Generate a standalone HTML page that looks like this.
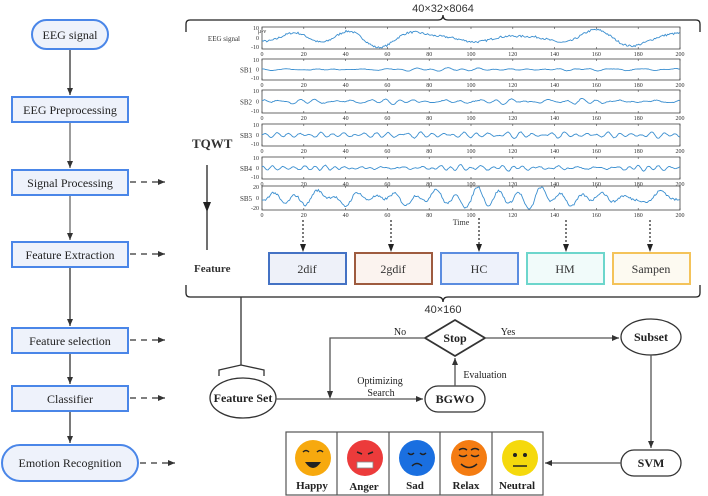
<!DOCTYPE html>
<html><head><meta charset="utf-8"><style>
html,body{margin:0;padding:0;background:#fff;}
svg{display:block;font-family:"Liberation Serif",serif;}
</style></head><body>
<svg id="s" width="708" height="496" viewBox="0 0 708 496" xmlns="http://www.w3.org/2000/svg">
<defs>
<marker id="a" markerWidth="8" markerHeight="8" refX="7" refY="4" orient="auto" markerUnits="userSpaceOnUse"><path d="M0,1 L7,4 L0,7 z" fill="#333"/></marker>
</defs>
<g stroke="#333" stroke-width="1.3" fill="none">
<line x1="70" y1="49" x2="70" y2="95" marker-end="url(#a)"/>
<line x1="70" y1="122" x2="70" y2="168" marker-end="url(#a)" stroke="#666"/>
<line x1="70" y1="195" x2="70" y2="240" marker-end="url(#a)" stroke="#666"/>
<line x1="70" y1="267" x2="70" y2="326" marker-end="url(#a)"/>
<line x1="70" y1="353" x2="70" y2="384" marker-end="url(#a)"/>
<line x1="70" y1="411" x2="70" y2="443" marker-end="url(#a)"/>
<g stroke-dasharray="6,5"><line x1="130" y1="182" x2="165" y2="182" marker-end="url(#a)"/>
<line x1="130" y1="254" x2="165" y2="254" marker-end="url(#a)"/>
<line x1="130" y1="340" x2="165" y2="340" marker-end="url(#a)"/>
<line x1="130" y1="398" x2="165" y2="398" marker-end="url(#a)"/>
<line x1="140" y1="463" x2="175" y2="463" marker-end="url(#a)"/></g>
</g>
<g stroke="#4a86e8" stroke-width="2" fill="#eef2fb">
<rect x="32" y="20" width="76" height="29" rx="14.5"/>
<rect x="12" y="97" width="116" height="25"/>
<rect x="12" y="170" width="116" height="25"/>
<rect x="12" y="242" width="116" height="25"/>
<rect x="12" y="328" width="116" height="25"/>
<rect x="12" y="386" width="116" height="25"/>
<rect x="2" y="445" width="136" height="36" rx="18"/>
</g>
<g font-size="12" fill="#222" text-anchor="middle">
<text x="70" y="39">EEG signal</text>
<text x="70" y="114">EEG Preprocessing</text>
<text x="70" y="187">Signal Processing</text>
<text x="70" y="259">Feature Extraction</text>
<text x="70" y="345">Feature selection</text>
<text x="70" y="403">Classifier</text>
<text x="70" y="467">Emotion Recognition</text>
</g>
<path d="M186,32 L186,24 Q186,20 190,20 L438,20 Q443,20 443,15 Q443,20 448,20 L696,20 Q700,20 700,24 L700,32" stroke="#222" stroke-width="1.3" fill="none"/>
<text x="443" y="12" font-family="Liberation Sans,sans-serif" font-size="11" text-anchor="middle" fill="#333">40×32×8064</text>
<path d="M186,285 L186,293 Q186,297 190,297 L438,297 Q443,297 443,302 Q443,297 448,297 L696,297 Q700,297 700,293 L700,285" stroke="#222" stroke-width="1.3" fill="none"/>
<text x="443" y="313" font-family="Liberation Sans,sans-serif" font-size="11" text-anchor="middle" fill="#333">40×160</text>
<text x="192" y="148" font-size="13" font-weight="bold" fill="#333">TQWT</text>
<line x1="207" y1="165" x2="207" y2="250" stroke="#222" stroke-width="1.3"/>
<path d="M203,202 L207,212 L211,202 z" fill="#222"/>
<text x="194" y="272" font-size="11" font-weight="bold" fill="#333">Feature</text>
<g id="plots"></g>
<text x="461" y="225" font-size="8" text-anchor="middle" fill="#333">Time</text>
<g stroke="#222" stroke-width="1.2" stroke-dasharray="2,2">
<line x1="303" y1="220" x2="303" y2="248"/><line x1="391" y1="220" x2="391" y2="248"/><line x1="479" y1="218" x2="479" y2="248"/><line x1="566" y1="220" x2="566" y2="248"/><line x1="650" y1="220" x2="650" y2="248"/>
</g>
<g fill="#222"><path d="M300,244 L303,252 L306,244z"/><path d="M388,244 L391,252 L394,244z"/><path d="M476,244 L479,252 L482,244z"/><path d="M563,244 L566,252 L569,244z"/><path d="M647,244 L650,252 L653,244z"/></g>
<g stroke-width="2">
<rect x="269" y="253" width="77" height="31" fill="#eef1f9" stroke="#4472c4"/>
<rect x="355" y="253" width="77" height="31" fill="#fbf3ef" stroke="#9e5b3f"/>
<rect x="441" y="253" width="77" height="31" fill="#eef2fb" stroke="#5b8de0"/>
<rect x="527" y="253" width="77" height="31" fill="#f1fbfa" stroke="#6dd6cc"/>
<rect x="613" y="253" width="77" height="31" fill="#fdfaf1" stroke="#f4c35a"/>
</g>
<g font-size="12" fill="#333" text-anchor="middle">
<text x="307" y="273">2dif</text><text x="393" y="273">2gdif</text><text x="479" y="273">HC</text><text x="565" y="273">HM</text><text x="651" y="273">Sampen</text>
</g>
<g stroke="#333" stroke-width="1.3" fill="none">
<line x1="241" y1="297" x2="241" y2="365"/>
<path d="M219,376 L219,370 L241,365 L264,370 L264,376"/>
<ellipse cx="243" cy="398" rx="33" ry="20"/>
<line x1="276" y1="399" x2="423" y2="399" marker-end="url(#a)" stroke="#555"/>
<rect x="425" y="386" width="60" height="26" rx="13"/>
<path d="M455,320 L485,338 L455,356 L425,338 z" stroke-width="1.8"/>
<polyline points="425,338 330,338 330,397" stroke="#555"/>
<line x1="455" y1="386" x2="455" y2="358" marker-end="url(#a)" stroke="#555"/>
<line x1="485" y1="338" x2="619" y2="338" marker-end="url(#a)" stroke="#555"/>
<ellipse cx="651" cy="337" rx="30" ry="18"/>
<line x1="651" y1="355" x2="651" y2="448" marker-end="url(#a)" stroke="#555"/>
<rect x="621" y="450" width="60" height="26" rx="13"/>
<line x1="621" y1="463" x2="545" y2="463" marker-end="url(#a)" stroke="#555"/>
</g>
<path d="M327,391 L330,399 L333,391z" fill="#333"/>
<g font-size="11" fill="#222" text-anchor="middle">
<text x="243" y="402" font-weight="bold" font-size="12">Feature Set</text>
<text x="455" y="403" font-weight="bold" font-size="12">BGWO</text>
<text x="455" y="342" font-weight="bold" font-size="12">Stop</text>
<text x="651" y="341" font-weight="bold" font-size="12">Subset</text>
<text x="651" y="467" font-weight="bold" font-size="12">SVM</text>
<text x="400" y="335" font-size="10">No</text>
<text x="508" y="335" font-size="10">Yes</text>
<text x="485" y="378" font-size="10">Evaluation</text>
<text x="380" y="384" font-size="10">Optimizing</text>
<text x="381" y="396" font-size="10">Search</text>
</g>
<g stroke="#555" stroke-width="1.2" fill="#fff">
<rect x="286" y="432" width="257" height="63"/>
<line x1="337" y1="432" x2="337" y2="495"/><line x1="389" y1="432" x2="389" y2="495"/><line x1="440" y1="432" x2="440" y2="495"/><line x1="492" y1="432" x2="492" y2="495"/>
</g>
<circle cx="313" cy="458" r="18" fill="#f7a90e"/>
<circle cx="365" cy="458" r="18" fill="#ec3b3b"/>
<circle cx="417" cy="458" r="18" fill="#1a6fe0"/>
<circle cx="469" cy="458" r="18" fill="#f47c12"/>
<circle cx="520" cy="458" r="18" fill="#f5d90c"/>
<g stroke="#222" stroke-width="1.5" fill="none">
<path d="M303,452 q3,-3 6,0 M317,452 q3,-3 6,0"/>
<path d="M357,452 l5,2 M373,452 l-5,2"/>
<path d="M408,453 q3,3 6,0 M420,453 q3,3 6,0 M412,466 q5,-5 10,0"/>
<path d="M459,450 q4,-3 8,0 M471,450 q4,-3 8,0 M459,455 q4,3 8,0 M471,455 q4,3 8,0 M461,464 q8,7 16,0"/>
<line x1="513" y1="466" x2="527" y2="466"/>
</g>
<path d="M305,462 q8,12 16,0 z" fill="#222"/>
<rect x="357" y="462" width="16" height="6" fill="#fff" stroke="#888" stroke-width="0.8"/>
<circle cx="515" cy="455" r="2" fill="#222"/><circle cx="525" cy="455" r="2" fill="#222"/>
<g font-size="11" font-weight="bold" fill="#222" text-anchor="middle">
<text x="312" y="489">Happy</text><text x="364" y="490">Anger</text><text x="415" y="489">Sad</text><text x="466" y="489">Relax</text><text x="517" y="489">Neutral</text>
</g>
</svg>
<script>
(function(){
var g=document.getElementById('plots'),NS='http://www.w3.org/2000/svg';
var seed=7;function r(){seed=(seed*16807)%2147483647;return seed/2147483647;}
var x0=262,x1=680;
// [y0,y1,label,amp(px),freqBase,ticks]
var rows=[[27,49,'EEG signal',7,0.08,['10','0','-10']],[59,80,'SB1',1.2,0.25,['10','0','-10']],[90,113,'SB2',2.2,0.3,['10','0','-10']],[124,146,'SB3',2.2,0.35,['10','0','-10']],[157,179,'SB4',2.2,0.4,['10','0','-10']],[186,210,'SB5',8,0.18,['20','0','-20']]];
function el(n,a,t){var e=document.createElementNS(NS,n);for(var k in a)e.setAttribute(k,a[k]);if(t)e.textContent=t;g.appendChild(e);return e;}
rows.forEach(function(R){
 var y0=R[0],y1=R[1],ym=(y0+y1)/2;
 el('rect',{x:x0,y:y0,width:x1-x0,height:y1-y0,fill:'#fff',stroke:'#444','stroke-width':0.8});
 el('text',{x:R[2]=='EEG signal'?240:252,y:ym+3,'font-size':R[2]=='EEG signal'?7:7,'text-anchor':'end',fill:'#333'},R[2]);
 [[y0+3,R[5][0]],[ym+2,R[5][1]],[y1,R[5][2]]].forEach(function(t){el('text',{x:259,y:t[0],'font-size':6,'text-anchor':'end',fill:'#333'},t[1]);});
 for(var i=0;i<=10;i++){var x=x0+i*(x1-x0)/10;el('text',{x:x,y:y1+7,'font-size':6,'text-anchor':'middle',fill:'#333'},String(i*20));
  el('line',{x1:x,y1:y0,x2:x,y2:y0+2,stroke:'#444','stroke-width':0.6});el('line',{x1:x,y1:y1,x2:x,y2:y1-2,stroke:'#444','stroke-width':0.6});}
 var comps=[];for(var k=0;k<6;k++)comps.push([R[4]*(0.6+r()*1.2),r()*6.28,0.5+r()]);
 var sum=0;comps.forEach(function(c){sum+=c[2];});
 var pts=[];
 for(var x=x0;x<=x1;x+=1.2){var v=0;comps.forEach(function(c){v+=c[2]*Math.sin(c[0]*x+c[1]);});v=v/sum*1.8+(r()-0.5)*0.3;
  var yy=ym-v*R[3];yy=Math.max(y0+1,Math.min(y1-1,yy));pts.push(x.toFixed(1)+','+yy.toFixed(1));}
 el('polyline',{points:pts.join(' '),fill:'none',stroke:'#3b8fd0','stroke-width':0.9});
});
el('text',{x:258,y:33,'font-size':6,fill:'#333'},'μ-v');
})();
</script>
</body></html>
